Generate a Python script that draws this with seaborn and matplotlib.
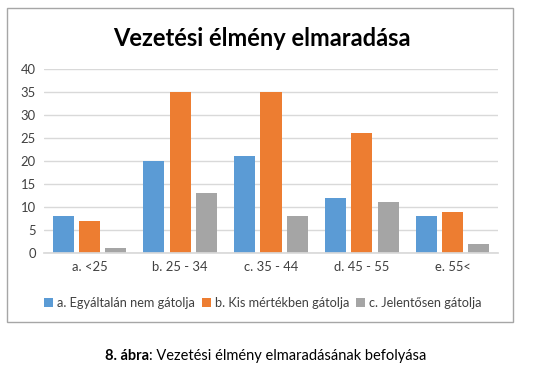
import matplotlib
matplotlib.use("Agg")
import matplotlib.pyplot as plt
import seaborn as sns
import pandas as pd
from matplotlib.patches import Rectangle

categories = ["a. <25", "b. 25 - 34", "c. 35 - 44", "d. 45 - 55", "e. 55<"]
series_names = ["a. Egyáltalán nem gátolja", "b. Kis mértékben gátolja", "c. Jelentősen gátolja"]
s_a = [8, 20, 21, 12, 8]
s_b = [7, 35, 35, 26, 9]
s_c = [1, 13, 8, 11, 2]
yticks = [0, 5, 10, 15, 20, 25, 30, 35, 40]
colors = ["#5B9BD5", "#ED7D31", "#A5A5A5"]

rows = []
for name, vals in zip(series_names, [s_a, s_b, s_c]):
    for c, v in zip(categories, vals):
        rows.append({"cat": c, "series": name, "val": v})
df = pd.DataFrame(rows)

sns.set_theme(style="white")
plt.rcParams["font.family"] = ["Lato", "DejaVu Sans"]

fig = plt.figure(figsize=(5.46, 3.76), dpi=100)
W, H = 546, 376
ax = fig.add_axes([44 / W, 1 - 253 / H, (498 - 44) / W, (253 - 69) / H])

sns.barplot(data=df, x="cat", y="val", hue="series", palette=colors,
            width=0.87, gap=0.2, ax=ax, saturation=1, legend=True, linewidth=0)

ax.set_ylim(0, 40)
ax.set_yticks(yticks)
ax.set_xlim(-0.5, 4.5)
ax.yaxis.grid(True, color="#D9D9D9", linewidth=1)
ax.set_axisbelow(True)
for s in ["top", "right", "left"]:
    ax.spines[s].set_visible(False)
ax.spines["bottom"].set_color("#D9D9D9")
ax.tick_params(axis="both", length=0, labelsize=9.4, colors="#404040", pad=6)
ax.set_xlabel("")
ax.set_ylabel("")

handles, labels = ax.get_legend_handles_labels()
ax.legend_.remove()
fig.legend(handles, labels, loc="center", bbox_to_anchor=(263 / W, 1 - 303 / H),
           ncol=3, frameon=False, fontsize=9.2, handlelength=0.7, handleheight=0.7,
           handletextpad=0.3, columnspacing=0.55, labelcolor="#404040")

fig.text(262 / W, 1 - 38 / H, "Vezetési élmény elmaradása", ha="center", va="center",
         fontsize=17, fontweight="bold", color="#000000")

fig.patches.append(Rectangle((7 / W, 1 - 322 / H), (513 - 7) / W, (322 - 8) / H,
                             transform=fig.transFigure, fill=False,
                             edgecolor="#A6A6A6", linewidth=1))

fig.text(149 / W, 1 - 356 / H, "8. ábra", ha="right", va="center", fontsize=10.5,
         fontweight="bold", color="#000000")
fig.text(149 / W, 1 - 356 / H, ": Vezetési élmény elmaradásának befolyása", ha="left",
         va="center", fontsize=10.5, color="#000000")

fig.savefig("out.png", dpi=100, facecolor="white")
